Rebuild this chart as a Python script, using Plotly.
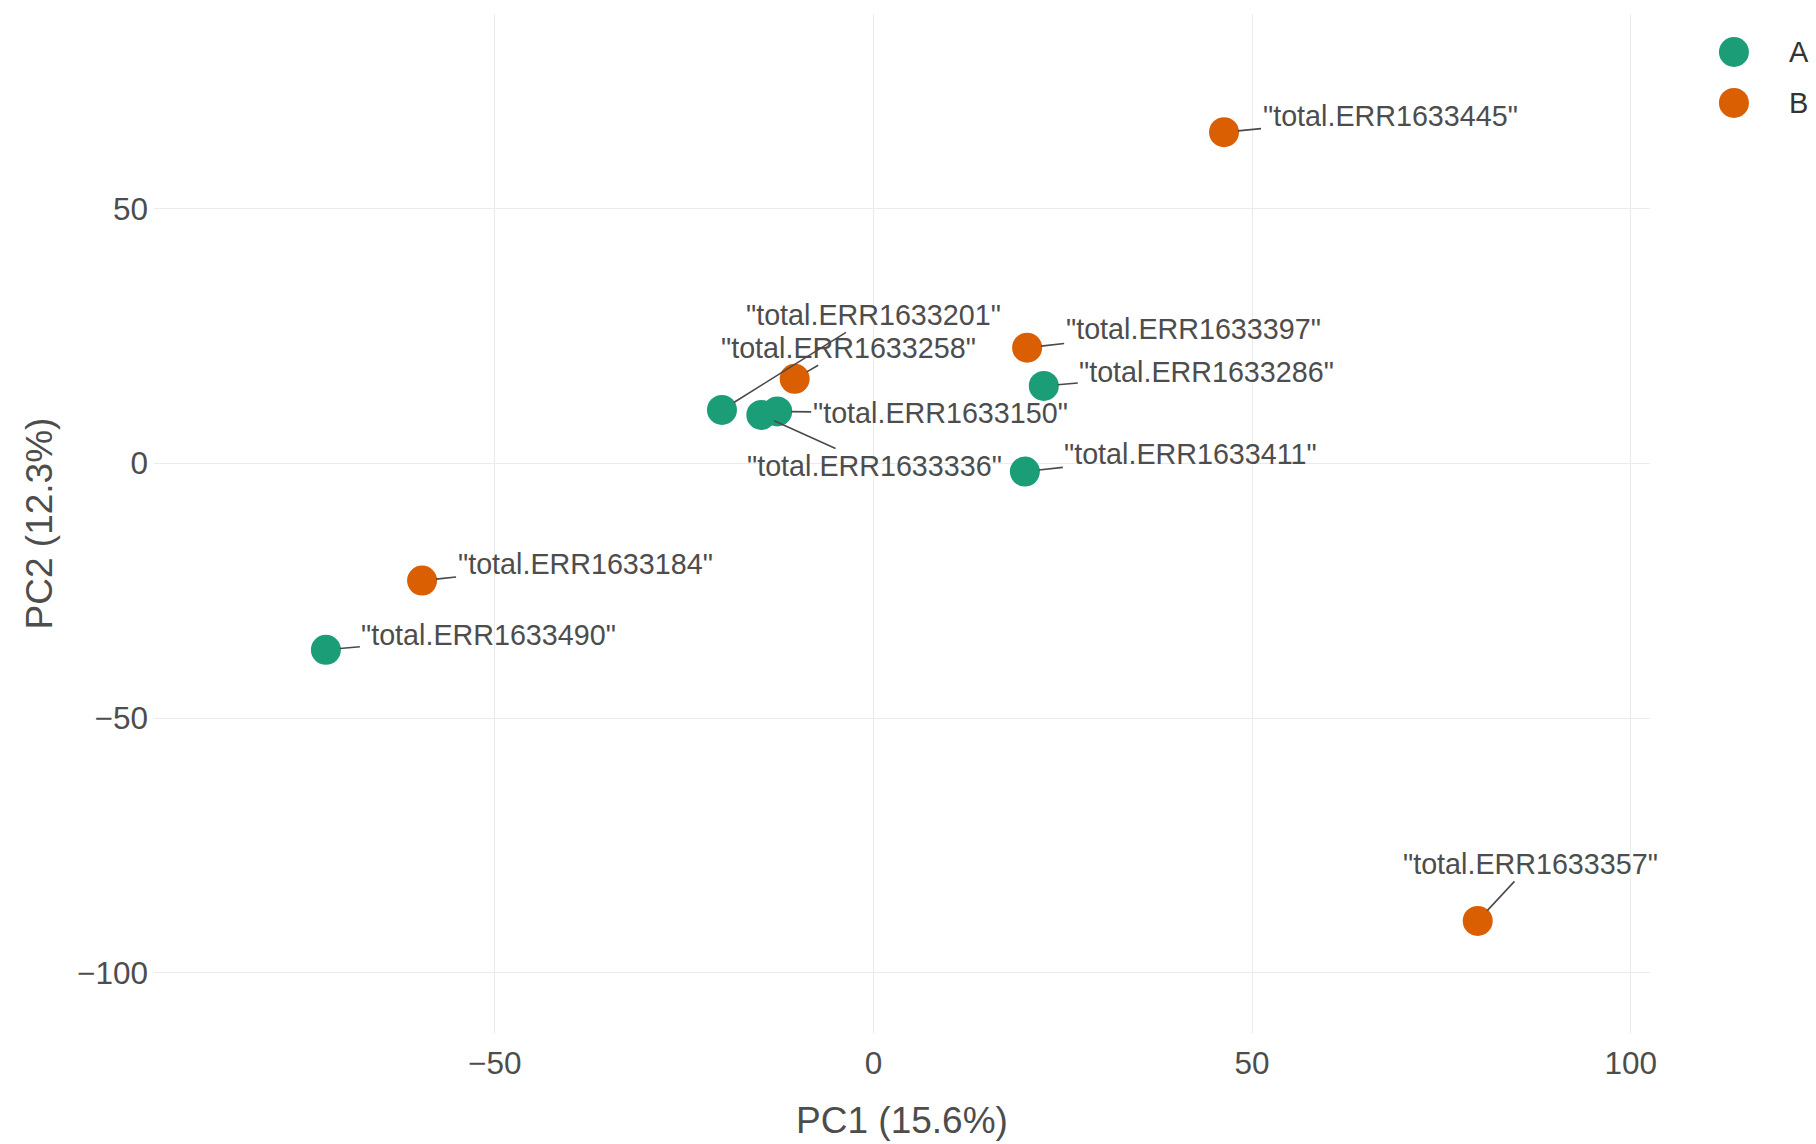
import plotly.graph_objects as go

# PCA scores per sample
sample = [
    "total.ERR1633445", "total.ERR1633397", "total.ERR1633258",
    "total.ERR1633184", "total.ERR1633357",
    "total.ERR1633286", "total.ERR1633411", "total.ERR1633201",
    "total.ERR1633150", "total.ERR1633336", "total.ERR1633490",
]
group = ["B", "B", "B", "B", "B", "A", "A", "A", "A", "A", "A"]
pc1 = [46.3, 20.3, -10.4, -59.6, 79.8, 22.5, 20.0, -20.0, -12.7, -14.8, -72.3]
pc2 = [65.0, 22.7, 16.6, -23.0, -89.8, 15.2, -1.6, 10.5, 10.2, 9.5, -36.6]

pc1_label = "PC1 (15.6%)"
pc2_label = "PC2 (12.3%)"
groups = ["A", "B"]

# styling
group_colors = {"A": "#1B9E77", "B": "#D95F02"}
font_family = "Liberation Sans, Arial, sans-serif"
text_gray = "#4d4d4d"

# repelled label placement: pixel offset of each label centre from its point
label_offset = {
    "total.ERR1633445": (166, -16),
    "total.ERR1633397": (166, -19),
    "total.ERR1633258": (54, -31),
    "total.ERR1633184": (163, -17),
    "total.ERR1633357": (53, -57),
    "total.ERR1633286": (163, -14),
    "total.ERR1633411": (166, -18),
    "total.ERR1633201": (152, -95),
    "total.ERR1633150": (163, 2),
    "total.ERR1633336": (113, 51),
    "total.ERR1633490": (163, -15),
}

fig = go.Figure()

for g in groups:
    idx = [i for i, v in enumerate(group) if v == g]
    fig.add_trace(go.Scatter(
        x=[pc1[i] for i in idx],
        y=[pc2[i] for i in idx],
        mode="markers",
        name=g,
        text=[sample[i] for i in idx],
        hovertemplate="%{text}<br>PC1: %{x}<br>PC2: %{y}<extra>" + g + "</extra>",
        marker=dict(size=30, color=group_colors[g], line=dict(width=0)),
        showlegend=False,
    ))

# sample labels with leader segments
for s, x, y in zip(sample, pc1, pc2):
    dx, dy = label_offset[s]
    fig.add_annotation(
        x=x, y=y, xref="x", yref="y",
        text='"' + s + '"',
        showarrow=True, arrowhead=0, arrowwidth=1.6, arrowcolor="#4a4a4a",
        ax=dx, ay=dy, standoff=14,
        font=dict(family=font_family, size=28.7, color=text_gray),
    )

# legend keys (drawn large, as in the figure)
legend_y = {"A": 0.9627, "B": 0.9127}
for g in groups:
    fig.add_shape(
        type="circle", xref="paper", yref="paper",
        xsizemode="pixel", ysizemode="pixel",
        xanchor=1.0561, yanchor=legend_y[g],
        x0=-15, x1=15, y0=-15, y1=15,
        fillcolor=group_colors[g], line=dict(width=0),
    )
    fig.add_annotation(
        x=1.0916, y=legend_y[g], xref="paper", yref="paper",
        xanchor="left", yanchor="middle", showarrow=False,
        text=g, font=dict(family=font_family, size=29, color="#333333"),
    )

axis_common = dict(
    showgrid=True, gridcolor="#EBEBEB", gridwidth=1.2,
    zeroline=False, showline=False, ticks="",
    tickfont=dict(family=font_family, size=31.5, color=text_gray),
)

fig.update_layout(
    width=1816, height=1144,
    margin=dict(l=154, r=166, t=14, b=111),
    paper_bgcolor="white", plot_bgcolor="white",
    font=dict(family=font_family, color=text_gray),
    showlegend=False,
    xaxis=dict(
        range=[-95.0, 102.55], tickvals=[-50, 0, 50, 100],
        title=dict(text=pc1_label, font=dict(family=font_family, size=37, color=text_gray), standoff=27),
        ticklabelstandoff=8,
        **axis_common,
    ),
    yaxis=dict(
        range=[-111.8, 88.2], tickvals=[-100, -50, 0, 50],
        title=dict(text=pc2_label, font=dict(family=font_family, size=37, color=text_gray), standoff=13),
        ticklabelstandoff=5,
        **axis_common,
    ),
)

fig.write_html("out.html")
